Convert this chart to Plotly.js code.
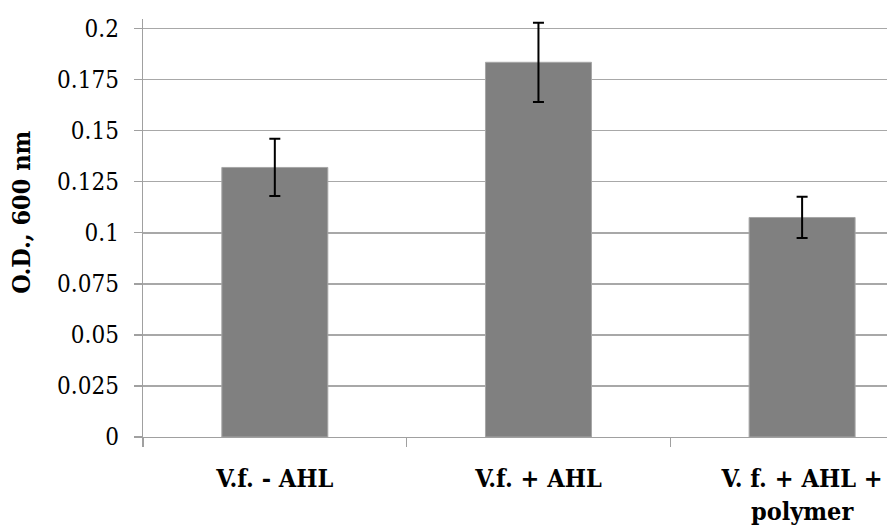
<!DOCTYPE html>
<html>
<head>
<meta charset="utf-8">
<script src="https://cdn.plot.ly/plotly-3.0.1.min.js"></script>
<style>html,body{margin:0;padding:0;background:#fff;}#chart{width:887px;height:528px;}</style>
</head>
<body>
<div id="chart"></div>
<script>
// Data
var categories = ["V.f. - AHL", "V.f. + AHL", "V. f. + AHL +<br>polymer"];
var odValues = [0.132, 0.1835, 0.1075];
var odErrors = [0.014, 0.0194, 0.0101];
var yTickVals = [0, 0.025, 0.05, 0.075, 0.1, 0.125, 0.15, 0.175, 0.2];
var yTickText = ["0", "0.025", "0.05", "0.075", "0.1", "0.125", "0.15", "0.175", "0.2"];

var W = 887, H = 528;
var mL = 143, mR = 0, mT = 19, mB = 91.3;
var plotW = W - mL - mR, plotH = H - mT - mB;
var serif = "DejaVu Serif Condensed";

var trace = {
  type: "bar",
  x: categories,
  y: odValues,
  marker: {color: "#808080", line: {color: "#a6a6a6", width: 1}},
  error_y: {type: "data", array: odErrors, visible: true, color: "#000000", thickness: 2, width: 5.5},
  hoverinfo: "x+y"
};

var layout = {
  width: W, height: H,
  margin: {l: mL, r: mR, t: mT, b: mB, pad: 0},
  paper_bgcolor: "#ffffff", plot_bgcolor: "#ffffff",
  showlegend: false,
  bargap: 0.598,
  font: {family: serif, color: "#000000"},
  xaxis: {
    type: "category",
    range: [-0.5, 2.322],
    showgrid: false,
    showline: true, linecolor: "#a0a0a0", linewidth: 1.3,
    ticks: "outside", tickson: "boundaries", ticklen: 9, tickcolor: "#a0a0a0", tickwidth: 1.3,
    tickfont: {family: serif, size: 25, color: "#000000", weight: "bold"},
    ticklabelstandoff: 19,
    zeroline: false
  },
  yaxis: {
    range: [0, 0.2047],
    tickmode: "array", tickvals: yTickVals, ticktext: yTickText,
    showgrid: true, gridcolor: "#a8a8a8", gridwidth: 1.4,
    showline: true, linecolor: "#a0a0a0", linewidth: 1.3,
    ticks: "outside", ticklen: 8, tickcolor: "#a0a0a0", tickwidth: 1.3,
    tickfont: {family: serif, size: 24, color: "#000000"},
    ticklabelstandoff: 10,
    zeroline: false
  },
  annotations: [{
    text: "<b>O.D., 600 nm</b>",
    textangle: -90,
    xref: "paper", yref: "paper",
    x: (22 - mL) / plotW,
    y: (H - mB - 212.5) / plotH,
    xanchor: "center", yanchor: "middle",
    showarrow: false,
    font: {family: serif, size: 25, color: "#000000"}
  }]
};

Plotly.newPlot("chart", [trace], layout, {displayModeBar: false, staticPlot: true});
</script>
</body>
</html>
